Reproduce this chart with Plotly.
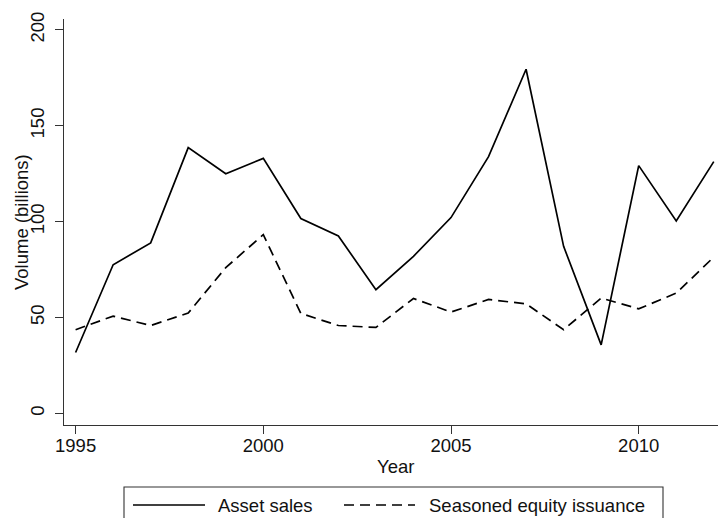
import plotly.graph_objects as go

# Annual deal volume, billions
years = list(range(1995, 2013))
asset_sales = [31.7, 77.5, 88.9, 138.6, 125.0, 133.0, 101.6, 92.5, 64.5, 81.9,
               102.1, 133.9, 179.5, 87.1, 35.7, 129.2, 100.3, 131.3]
seo_issuance = [43.6, 50.7, 45.8, 52.3, 76.0, 93.2, 52.1, 45.8, 44.8, 59.9,
                52.8, 59.4, 57.1, 43.6, 60.1, 54.5, 62.7, 81.5]

series_names = ["Asset sales", "Seasoned equity issuance"]
x_ticks = [1995, 2000, 2005, 2010]
y_ticks = [0, 50, 100, 150, 200]

W, H = 718, 518
L, R, T, B = 64, 718, 19, 425          # plot-area edges in pixels
FONT = "Liberation Sans, Arial, Helvetica, sans-serif"
FS = 18.5
INK = "#111111"

# axis calibration: 1995 sits 11.6 px right of the y axis, 37.54 px per year
x0 = 1995 - 11.6 / 37.54
x1 = x0 + (R - L) / 37.54
y0, y1 = -6.1, 205.7


def px(xp):
    return (xp - L) / (R - L)


def py(yp):
    return (B - yp) / (B - T)


fig = go.Figure()
fig.add_trace(go.Scatter(x=years, y=asset_sales, mode="lines", name=series_names[0],
                         line=dict(color="black", width=1.7), showlegend=False))
fig.add_trace(go.Scatter(x=years, y=seo_issuance, mode="lines", name=series_names[1],
                         line=dict(color="black", width=1.7, dash="10px,6px"),
                         showlegend=False))

axis_common = dict(showgrid=False, zeroline=False, showline=True, linecolor="#333333",
                   linewidth=1.1, ticks="outside", ticklen=8, tickwidth=1,
                   tickcolor="#333333", tickfont=dict(family=FONT, size=FS, color=INK))

fig.update_xaxes(range=[x0, x1], tickvals=x_ticks, ticklabelstandoff=-4, **axis_common)
fig.update_yaxes(range=[y0, y1], tickvals=y_ticks, tickangle=-90, ticklabelstandoff=4,
                 **axis_common)

annotations = [
    dict(text="Year", x=px(395), y=py(466), xref="paper", yref="paper",
         showarrow=False, xanchor="center", yanchor="middle",
         font=dict(family=FONT, size=FS, color=INK)),
    dict(text="Volume (billions)", x=px(21), y=py(222), xref="paper", yref="paper",
         showarrow=False, xanchor="center", yanchor="middle", textangle=-90,
         font=dict(family=FONT, size=FS, color=INK)),
]

# legend: framed box below the plot with long line samples
shapes = [
    dict(type="rect", xref="paper", yref="paper", x0=px(124), x1=px(663),
         y0=py(530), y1=py(487), line=dict(color="#333333", width=1.1)),
]
legend_items = [(133, 205, 216, "solid"), (344, 415, 427, "10px,6px")]
for (sx0, sx1, tx, dash), name in zip(legend_items, series_names):
    shapes.append(dict(type="line", xref="paper", yref="paper", x0=px(sx0), x1=px(sx1),
                       y0=py(505), y1=py(505), line=dict(color="black", width=1.7, dash=dash)))
    annotations.append(dict(text=name, x=px(tx), y=py(505), xref="paper", yref="paper",
                            showarrow=False, xanchor="left", yanchor="middle",
                            font=dict(family=FONT, size=FS, color=INK)))

fig.update_layout(
    width=W, height=H,
    margin=dict(l=L, r=W - R, t=T, b=H - B),
    plot_bgcolor="white", paper_bgcolor="white",
    shapes=shapes, annotations=annotations,
)

fig.write_html("out.html")
